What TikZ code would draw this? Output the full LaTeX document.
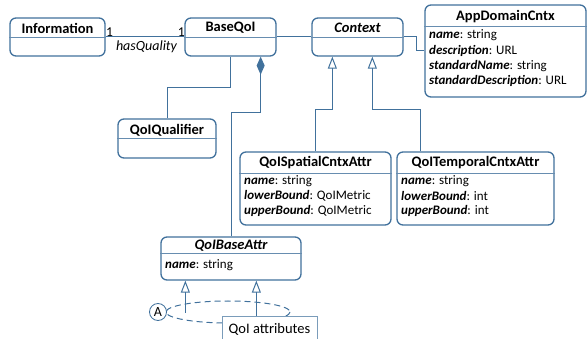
\documentclass[tikz,border=0pt]{standalone}
\usepackage{fontspec}
\setmainfont{Carlito}
\usetikzlibrary{arrows.meta,calc}
\definecolor{uml}{HTML}{41719C}
\tikzset{
  cls/.style={draw=uml, line width=1.3pt, rounded corners=6pt, fill=white, inner sep=0pt},
  ttl/.style={font=\fontsize{14.5}{16}\selectfont\bfseries, inner sep=0pt, anchor=center},
  attr/.style={font=\fontsize{13}{15}\selectfont, inner sep=0pt, anchor=west},
  divider/.style={draw=uml!80, line width=0.7pt},
  conn/.style={draw=uml, line width=1pt},
  gen/.style={conn, -{Triangle[open, length=12pt, width=9pt, line width=1pt]}},
  comp/.style={conn, -{Diamond[length=18pt, width=8pt, fill=uml]}},
  lbl/.style={font=\fontsize{13.5}{15}\selectfont, inner sep=0pt},
}
\begin{document}
\begin{tikzpicture}[x=1pt,y=-1pt]
\useasboundingbox (0,0) rectangle (587,339);
% classes
\node[cls, minimum width=95pt, minimum height=38pt] (info) at (57.5,37) {};
\draw[divider] ([yshift=-20pt]info.north west) -- ([yshift=-20pt]info.north east);
\node[ttl] (infot) at (57.5,28) {Information};

\node[cls, minimum width=91pt, minimum height=38pt] (base) at (230.5,37) {};
\draw[divider] ([yshift=-20pt]base.north west) -- ([yshift=-20pt]base.north east);
\node[ttl] (baset) at (230.5,28) {BaseQoI};

\node[cls, minimum width=91pt, minimum height=38pt] (ctx) at (357.5,37) {};
\draw[divider] ([yshift=-20pt]ctx.north west) -- ([yshift=-20pt]ctx.north east);
\node[ttl, font=\fontsize{14.5}{16}\selectfont\bfseries\itshape] (ctxt) at (357.5,28) {Context};

\node[cls, minimum width=161pt, minimum height=92pt] (app) at (505.5,51) {};
\draw[divider] ([yshift=-22pt]app.north west) -- ([yshift=-22pt]app.north east);
\node[ttl] (appt) at (505.5,17) {AppDomainCntx};
\node[attr] (app1) at (429,35) {\textbf{\textit{name}}: string};
\node[attr] (app2) at (429,51) {\textbf{\textit{description}}: URL};
\node[attr] (app3) at (429,66) {\textbf{\textit{standardName}}: string};
\node[attr] (app4) at (429,81) {\textbf{\textit{standardDescription}}: URL};

\node[cls, minimum width=98pt, minimum height=39pt] (qual) at (167,138.5) {};
\draw[divider] ([yshift=-20pt]qual.north west) -- ([yshift=-20pt]qual.north east);
\node[ttl] (qualt) at (167,130) {QoIQualifier};

\node[cls, minimum width=151pt, minimum height=73pt] (spat) at (315.5,188.5) {};
\draw[divider] ([yshift=-22pt]spat.north west) -- ([yshift=-22pt]spat.north east);
\node[ttl] (spatt) at (315.5,163) {QoISpatialCntxAttr};
\node[attr] (spat1) at (244,181) {\textbf{\textit{name}}: string};
\node[attr] (spat2) at (244,196) {\textbf{\textit{lowerBound}}: QoIMetric};
\node[attr] (spat3) at (244,211) {\textbf{\textit{upperBound}}: QoIMetric};

\node[cls, minimum width=157pt, minimum height=73pt] (temp) at (475.5,188.5) {};
\draw[divider] ([yshift=-22pt]temp.north west) -- ([yshift=-22pt]temp.north east);
\node[ttl] (tempt) at (475.5,163) {QoITemporalCntxAttr};
\node[attr] (temp1) at (401,181) {\textbf{\textit{name}}: string};
\node[attr] (temp2) at (401,196) {\textbf{\textit{lowerBound}}: int};
\node[attr] (temp3) at (401,211) {\textbf{\textit{upperBound}}: int};

\node[cls, minimum width=140pt, minimum height=43pt] (qba) at (231,258.5) {};
\draw[divider] ([yshift=-17pt]qba.north west) -- ([yshift=-17pt]qba.north east);
\node[ttl, font=\fontsize{14.5}{16}\selectfont\bfseries\itshape] (qbat) at (231,246) {QoIBaseAttr};
\node[attr] (qba1) at (165,265) {\textbf{\textit{name}}: string};

% associations
\draw[conn] (info.east) -- (base.west);
\node[lbl, anchor=south west] (m1) at (106,37) {1};
\node[lbl, anchor=south east] (m2) at (185,37) {1};
\node[lbl, font=\fontsize{14}{16}\selectfont\itshape] (hq) at (146.5,47) {hasQuality};
\draw[conn] (base.east) -- (ctx.west);
\coordinate (bend1) at (416,37);
\draw[conn] (ctx.east) -- (bend1) |- (app.west);

% generalisations to Context
\coordinate (ctxL) at ($(ctx.south west)+(21,0)$);
\coordinate (ctxR) at ($(ctx.south west)+(61,0)$);
\coordinate (tempTop) at ($(temp.north west)+(24,0)$);
\draw[gen] (spat.north) -- (spat.north |- 0,110) -| (ctxL);
\draw[gen] (tempTop) -- (tempTop |- 0,110) -| (ctxR);

% qualifier and composition
\draw[conn] (qual.north) -- (qual.north |- 0,88) -| (base.south);
\coordinate (baseD) at ($(base.south east)+(-16,0)$);
\draw[comp] (qba.north) -- (qba.north |- 0,113) -| (baseD);

% dashed ellipse and attributes
\draw[conn, dashed, dash pattern=on 6pt off 4pt] (228,312) ellipse [x radius=62, y radius=11];
\node[draw=uml, line width=0.8pt, fill=white, circle, minimum size=17pt, inner sep=0pt, font=\fontsize{14}{16}\selectfont] (A) at (158,312) {A};
\node[draw=uml!70, line width=0.8pt, fill=white, minimum width=95pt, minimum height=30pt, anchor=north west, inner sep=0pt] (qattr) at (222,316) {};
\node[lbl, font=\fontsize{14.5}{16}\selectfont] (qattrt) at (269.5,329) {QoI attributes};
\coordinate (qbaL) at ($(qba.south west)+(25,0)$);
\coordinate (qbaR) at ($(qba.south west)+(96,0)$);
\coordinate (freeL) at (qbaL |- 0,313);
\draw[gen] (freeL) -- (qbaL);
\draw[gen] (qattr.north -| qbaR) -- (qbaR);
\end{tikzpicture}
\end{document}
